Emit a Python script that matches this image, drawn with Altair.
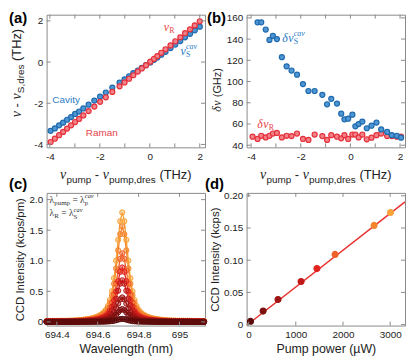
import altair as alt
import pandas as pd

# ---------------- data ----------------
# (a) resonance positions vs pump detuning (THz)
a_detuning = [-3.97, -3.80, -3.63, -3.47, -3.31, -3.15, -2.99, -2.83, -2.66, -2.45, -2.22, -1.99, -1.76, -1.50,
              -1.21, -1.01, -0.83, -0.66, -0.48, -0.32, -0.15, 0.02, 0.17, 0.30, 0.46, 0.63, 0.83, 1.02, 1.22,
              1.41, 1.61, 1.80, 2.00]
a_cavity = [-3.34, -3.22, -3.07, -2.94, -2.80, -2.67, -2.52, -2.40, -2.25, -2.07, -1.87, -1.68, -1.48, -1.24,
            -1.00, -0.84, -0.69, -0.54, -0.41, -0.28, -0.15, -0.02, 0.11, 0.22, 0.36, 0.50, 0.68, 0.85, 1.02,
            1.20, 1.37, 1.54, 1.72]
a_raman = [-3.88, -3.72, -3.55, -3.39, -3.23, -3.07, -2.91, -2.76, -2.59, -2.38, -2.16, -1.93, -1.71, -1.45,
           -1.18, -0.99, -0.81, -0.64, -0.46, -0.31, -0.15, 0.02, 0.16, 0.29, 0.45, 0.62, 0.81, 1.01, 1.20,
           1.40, 1.59, 1.78, 1.98]

# (b) linewidths (GHz)
b_cav_detuning = [-3.74, -3.59, -3.41, -3.26, -3.12, -2.96, -2.76, -2.57, -2.37, -2.15, -1.91, -1.69, -1.44, -1.13,
                  -0.94, -0.77, -0.54, -0.37, -0.24, -0.09, 0.08, 0.20, 0.33, 0.48, 0.66, 0.85, 1.05, 1.24, 1.48,
                  1.67, 1.87, 2.04]
b_cav_width = [155.8, 155.8, 149.0, 139.2, 143.0, 140.0, 122.9, 114.3, 110.4, 106.5, 97.6, 91.1, 91.1, 87.5,
               78.6, 83.7, 79.2, 69.7, 64.4, 65.0, 68.8, 57.8, 59.9, 62.3, 56.0, 58.4, 61.4, 54.9, 52.5,
               49.5, 48.9, 47.1]
b_ram_detuning = [-3.94, -3.74, -3.59, -3.41, -3.26, -3.12, -2.96, -2.76, -2.57, -2.37, -2.15, -1.91, -1.69, -1.44,
                  -1.13, -0.94, -0.77, -0.54, -0.37, -0.24, -0.09, 0.08, 0.20, 0.33, 0.48, 0.66, 0.85, 1.05, 1.24,
                  1.48, 1.67, 1.87, 2.04]
b_ram_width = [48.0, 45.9, 48.9, 47.4, 48.9, 51.0, 51.6, 47.4, 48.9, 48.6, 51.0, 45.9, 45.0, 50.1,
               48.6, 45.0, 49.5, 48.0, 46.5, 49.5, 45.9, 50.1, 50.1, 47.4, 50.1, 45.6, 47.1, 49.5, 51.0,
               48.6, 48.6, 48.0, 48.0]

# (c) spectra: wavelength grid (nm) and normalised line shape
c_wavelength = [694.35, 694.36, 694.37, 694.38, 694.39, 694.40, 694.41, 694.42, 694.43, 694.44, 694.45, 694.46,
                694.47, 694.48, 694.49, 694.50, 694.51, 694.52, 694.53, 694.54, 694.55, 694.56, 694.57, 694.58,
                694.59, 694.60, 694.61, 694.62, 694.63, 694.64, 694.65, 694.66, 694.67, 694.68, 694.69, 694.70,
                694.71, 694.72, 694.73, 694.74, 694.75, 694.76, 694.77, 694.78, 694.79, 694.80, 694.81, 694.82,
                694.83, 694.84, 694.85, 694.86, 694.87, 694.88, 694.89, 694.90, 694.91, 694.92, 694.93, 694.94,
                694.95, 694.96, 694.97, 694.98, 694.99, 695.00, 695.01, 695.02, 695.03, 695.04, 695.05, 695.06,
                695.07, 695.08, 695.09, 695.10, 695.11, 695.12]
c_profile = [0.008, 0.008, 0.008, 0.009, 0.009, 0.009, 0.009, 0.010, 0.010, 0.010, 0.010, 0.011, 0.011,
             0.012, 0.013, 0.014, 0.016, 0.018, 0.020, 0.022, 0.025, 0.028, 0.032, 0.037, 0.043, 0.050, 0.060,
             0.072, 0.088, 0.110, 0.145, 0.200, 0.280, 0.400, 0.560, 0.750, 0.920,
             1.000,
             0.920, 0.750, 0.560, 0.400, 0.280, 0.200, 0.145, 0.110, 0.088, 0.072, 0.060, 0.050, 0.043, 0.037,
             0.032, 0.028, 0.025, 0.022, 0.020, 0.018, 0.016, 0.014, 0.013, 0.012,
             0.011, 0.011, 0.010, 0.010, 0.010, 0.010, 0.009, 0.009, 0.009, 0.009, 0.008, 0.008, 0.008, 0.008,
             0.008, 0.008]
c_peaks = [0.05, 0.21, 0.40, 0.68, 0.89, 1.12, 1.56, 1.79]

# (d) integrated intensity vs pump power
run_names = ["P1", "P2", "P3", "P4", "P5", "P6", "P7", "P8"]
d_power = [40, 308, 623, 1112, 1448, 1832, 2659, 3007]
d_intensity = [0.005, 0.021, 0.039, 0.067, 0.087, 0.109, 0.154, 0.174]
d_fit_power = [-40, 3314]
d_fit_intensity = [-0.001, 0.1905]

# tick positions / labels
a_xticks = [-4, -3, -2, -1, 0, 1, 2]
a_xlabels = [-4, -2, 0, 2]
a_yticks = [-4, -2, 0, 2]
b_yticks = [40, 60, 80, 100, 120, 140, 160]
c_xticks = [694.4, 694.6, 694.8, 695]
c_yticks = [0, 0.5, 1, 1.5, 2]
d_xticks = [0, 1000, 2000, 3000]
d_yticks = [0, 0.05, 0.1, 0.15, 0.2]

# ---------------- style ----------------
SANS = "Liberation Sans"
SERIF = "Liberation Serif"
FRAME = "#8a8a8a"
INK = "#222222"
BLUE_F, BLUE_S, BLUE_T = "#4f97d4", "#1f6aad", "#2a7cc4"
RED_F, RED_S, RED_T = "#f28289", "#e5303a", "#e8434b"
FIT_RED = "#e8322f"
run_colors = ["#5c0b0b", "#7e1010", "#9e1414", "#c21818", "#e2241e", "#f0602a", "#f4862e", "#f7a33a"]
run_strokes = ["#3d0606", "#5a0a0a", "#780c0c", "#941010", "#b41414", "#c8461c", "#d06a20", "#d88828"]
W, H = 160, 134
TL = 4

SANS_W = {' ': .278, '(': .333, ')': .333, '-': .333, ',': .278, '/': .278, '=': .584,
          'a': .556, 'c': .5, 'd': .556, 'e': .556, 'm': .833, 'n': .556, 'p': .556, 'r': .333,
          's': .5, 'u': .556, 'z': .5, 'v': .5, 'G': .778, 'H': .722, 'R': .722, 'S': .667, 'T': .611}
SERIF_W = {' ': .25, '=': .564, 'a': .444, 'c': .444, 'm': .778, 'p': .5, 'u': .5, 'v': .444,
           'R': .667, 'S': .556, 'ν': .46, 'δ': .5, 'λ': .5}


def ch(t, size, color=INK, serif=False, it=False, dy=0.0, adv=True):
    return dict(t=t, size=size, color=color, serif=serif, it=it, dy=dy, adv=adv)


def width(t, size, serif):
    table = SERIF_W if serif else SANS_W
    return sum(table.get(k, 0.55) for k in t) * size


def one_row(**kw):
    if not kw:
        return pd.DataFrame({"k": [0]})
    return pd.DataFrame({k: [v] for k, v in kw.items()})


def rich(chunks, x_enc, y_enc, src=None, angle=0, center=False):
    src = one_row() if src is None else src
    widths = [width(c["t"], c["size"], c["serif"]) for c in chunks]
    total = sum(w for c, w in zip(chunks, widths) if c["adv"])
    pos = -total / 2 if center else 0.0
    out = []
    for c, w in zip(chunks, widths):
        txt = c["t"].strip()
        lead = len(c["t"]) - len(c["t"].lstrip(" "))
        off = width(" " * lead, c["size"], c["serif"])
        m = alt.Chart(src).mark_text(
            text=txt, font=SERIF if c["serif"] else SANS, fontSize=c["size"],
            fontStyle="italic" if c["it"] else "normal", color=c["color"],
            align="left", baseline="alphabetic", dx=pos + off, dy=c["dy"], angle=angle)
        out.append(m.encode(x=x_enc, y=y_enc))
        if c["adv"]:
            pos += w
    return out


class Panel:
    def __init__(self, xs, ys, axx, axy):
        self.xs, self.ys, self.axx, self.axy = xs, ys, axx, axy

    def X(self, f):
        return alt.X(f, scale=self.xs, axis=self.axx)

    def Y(self, f):
        return alt.Y(f, scale=self.ys, axis=self.axy)

    def ticks(self, xvals, yvals):
        xd = pd.DataFrame({"v": xvals})
        yd = pd.DataFrame({"v": yvals})
        out = []
        for y0, y1 in [(H, H - TL), (0, TL)]:
            out.append(alt.Chart(xd).mark_rule(color=FRAME, strokeWidth=1).encode(
                x=self.X("v:Q"), y=alt.value(y0), y2=alt.value(y1)))
        for x0, x1 in [(0, TL), (W - TL, W)]:
            out.append(alt.Chart(yd).mark_rule(color=FRAME, strokeWidth=1).encode(
                y=self.Y("v:Q"), x=alt.value(x0), x2=alt.value(x1)))
        return out

    def text(self, t, x, y, color, size=10):
        return alt.Chart(one_row(x=x, y=y)).mark_text(
            text=t, font=SANS, fontSize=size, color=color, align="left", baseline="middle").encode(
            x=self.X("x:Q"), y=self.Y("y:Q"))

    def rich(self, chunks, x, y):
        return rich(chunks, self.X("x:Q"), self.Y("y:Q"), src=one_row(x=x, y=y))


def plabel(t, x, y):
    return alt.Chart(one_row()).mark_text(
        text=t, font=SANS, fontSize=15, fontWeight="bold", color="#000",
        align="left", baseline="top").encode(x=alt.value(x), y=alt.value(y))


def detuning_title():
    return rich([ch("ν", 14, serif=True, it=True), ch("pump", 10, dy=3.5), ch(" - ", 13),
                 ch("ν", 14, serif=True, it=True), ch("pump,dres", 10, dy=3.5), ch(" (THz)", 13)],
                alt.value(W / 2), alt.value(H + 32), center=True)


int_label = "'' + datum.value"

# ---------------- panel (a) ----------------
df_a = pd.DataFrame({"det": a_detuning, "cav": a_cavity, "ram": a_raman})
pa = Panel(alt.Scale(domain=[-4.13, 2.21], nice=False, zero=False),
           alt.Scale(domain=[-4.14, 2.3], nice=False, zero=False),
           alt.Axis(values=a_xlabels, labelExpr=int_label, title=None),
           alt.Axis(values=a_yticks, labelExpr=int_label, title=None))
a_cav = alt.Chart(df_a).mark_circle(size=26, fill=BLUE_F, stroke=BLUE_S, strokeWidth=1.2, opacity=1).encode(
    x=pa.X("det:Q"), y=pa.Y("cav:Q"))
a_ram = alt.Chart(df_a).mark_circle(size=26, fill=RED_F, stroke=RED_S, strokeWidth=1.2, opacity=1).encode(
    x=pa.X("det:Q"), y=pa.Y("ram:Q"))
a_layers = [a_cav, a_ram] + pa.ticks(a_xticks, a_yticks)
a_layers += [pa.text("Cavity", -3.9, -1.82, BLUE_T), pa.text("Raman", -2.56, -3.46, RED_T)]
a_layers += pa.rich([ch("ν", 12, RED_T, serif=True, it=True), ch("R", 8, RED_T, serif=True, dy=2.5)], 0.56, 1.52)
a_layers += pa.rich([ch("ν", 12, BLUE_T, serif=True, it=True), ch("S", 8, BLUE_T, serif=True, dy=2, adv=False),
                     ch("cav", 8, BLUE_T, serif=True, it=True, dy=-6)], 1.23, 0.34)
a_layers += detuning_title()
a_layers += rich([ch("ν", 14, serif=True, it=True), ch(" - ", 13), ch("ν", 14, serif=True, it=True),
                  ch("S,dres", 10, dy=3.5), ch(" (THz)", 13)],
                 alt.value(-26), alt.value(H / 2 - 8), angle=270, center=True)
a_layers.append(plabel("(a)", -38, -4))
panel_a = alt.layer(*a_layers).properties(width=W, height=H)

# ---------------- panel (b) ----------------
df_bc = pd.DataFrame({"det": b_cav_detuning, "w": b_cav_width})
df_br = pd.DataFrame({"det": b_ram_detuning, "w": b_ram_width})
pb = Panel(alt.Scale(domain=[-4.18, 2.2], nice=False, zero=False),
           alt.Scale(domain=[38, 163], nice=False, zero=False),
           alt.Axis(values=a_xlabels, labelExpr=int_label, title=None),
           alt.Axis(values=b_yticks, labelExpr=int_label, title=None))
b_ram = alt.Chart(df_br).mark_circle(size=26, fill=RED_F, stroke=RED_S, strokeWidth=1.2, opacity=1).encode(
    x=pb.X("det:Q"), y=pb.Y("w:Q"))
b_cav = alt.Chart(df_bc).mark_circle(size=26, fill=BLUE_F, stroke=BLUE_S, strokeWidth=1.2, opacity=1).encode(
    x=pb.X("det:Q"), y=pb.Y("w:Q"))
b_layers = [b_ram, b_cav] + pb.ticks(a_xticks, b_yticks)
b_layers += pb.rich([ch("δ", 12, BLUE_T, serif=True, it=True), ch("ν", 12, BLUE_T, serif=True, it=True),
                     ch("S", 8, BLUE_T, serif=True, dy=2, adv=False),
                     ch("cav", 8, BLUE_T, serif=True, it=True, dy=-6)], -2.74, 137.3)
b_layers += pb.rich([ch("δ", 12, RED_T, serif=True, it=True), ch("ν", 12, RED_T, serif=True, it=True),
                     ch("R", 8, RED_T, serif=True, dy=2.5)], -3.75, 56.7)
b_layers += detuning_title()
b_layers += rich([ch("δ", 12, serif=True, it=True), ch("ν", 12, serif=True, it=True), ch(" (GHz)", 11)],
                 alt.value(-26), alt.value(H / 2 + 9), angle=270, center=True)
b_layers.append(plabel("(b)", -40, -4))
panel_b = alt.layer(*b_layers).properties(width=W, height=H)

# ---------------- panel (c) ----------------
c_rows = []
for name, peak in reversed(list(zip(run_names, c_peaks))):
    for wl, f in zip(c_wavelength, c_profile):
        c_rows.append({"wl": wl, "I": peak * f, "run": name})
df_c = pd.DataFrame(c_rows)
pc = Panel(alt.Scale(domain=[694.35, 695.125], nice=False, zero=False),
           alt.Scale(domain=[-0.06, 2.11], nice=False, zero=False),
           alt.Axis(values=c_xticks, labelExpr=int_label, title="Wavelength (nm)", titleFontSize=12.5,
                    titlePadding=3),
           alt.Axis(values=c_yticks, labelExpr="datum.value == 0 ? '0' : format(datum.value, '.1f')",
                    title="CCD Intensity (kcps/pm)", titleFontSize=11.5, titlePadding=3))
col_c = alt.Scale(domain=run_names, range=run_colors)
c_line = alt.Chart(df_c).mark_line(strokeWidth=1.3).encode(
    x=pc.X("wl:Q"), y=pc.Y("I:Q"), color=alt.Color("run:N", scale=col_c, legend=None))
c_pts = alt.Chart(df_c).mark_circle(size=28, fillOpacity=0.45, strokeWidth=1, opacity=1).encode(
    x=pc.X("wl:Q"), y=pc.Y("I:Q"),
    fill=alt.Fill("run:N", scale=col_c, legend=None), stroke=alt.Stroke("run:N", scale=col_c, legend=None))
c_layers = [c_line, c_pts] + pc.ticks(c_xticks, c_yticks)
G = "#333333"
c_layers += rich([ch("λ", 9.5, G, serif=True), ch("pump", 7, G, serif=True, dy=2), ch(" = ", 9.5, G, serif=True),
                  ch("λ", 9.5, G, serif=True), ch("p", 7, G, serif=True, dy=2.5, adv=False),
                  ch("cav", 6.5, G, serif=True, it=True, dy=-4.5)],
                 alt.value(3), alt.value(10))
c_layers += rich([ch("λ", 9.5, G, serif=True), ch("R", 7, G, serif=True, dy=2), ch(" = ", 9.5, G, serif=True),
                  ch("λ", 9.5, G, serif=True), ch("S", 7, G, serif=True, dy=2.5, adv=False),
                  ch("cav", 6.5, G, serif=True, it=True, dy=-4.5)],
                 alt.value(3), alt.value(23.5))
c_layers.append(plabel("(c)", -38, -16))
panel_c = alt.layer(*c_layers).properties(width=W, height=H)

# ---------------- panel (d) ----------------
df_d = pd.DataFrame({"P": d_power, "I": d_intensity, "run": run_names})
df_fit = pd.DataFrame({"P": d_fit_power, "I": d_fit_intensity})
pd_ = Panel(alt.Scale(domain=[-42, 3314], nice=False, zero=False),
            alt.Scale(domain=[-0.0015, 0.2045], nice=False, zero=False),
            alt.Axis(values=d_xticks, labelExpr=int_label, title="Pump power (µW)", titleFontSize=12.5,
                     titlePadding=3),
            alt.Axis(values=d_yticks, labelExpr="datum.value == 0 ? '0' : format(datum.value, '.2f')",
                     title="CCD Intensity (kcps)", titleFontSize=11.5, titlePadding=3))
d_fit = alt.Chart(df_fit).mark_line(color=FIT_RED, strokeWidth=1.5, clip=True).encode(
    x=pd_.X("P:Q"), y=pd_.Y("I:Q"))
d_pts = alt.Chart(df_d).mark_circle(size=36, strokeWidth=1.2, opacity=1).encode(
    x=pd_.X("P:Q"), y=pd_.Y("I:Q"),
    fill=alt.Fill("run:N", scale=col_c, legend=None),
    stroke=alt.Stroke("run:N", scale=alt.Scale(domain=run_names, range=run_strokes), legend=None))
d_layers = [d_fit, d_pts] + pd_.ticks(d_xticks, d_yticks)
d_layers.append(plabel("(d)", -42, -16))
panel_d = alt.layer(*d_layers).properties(width=W, height=H)

chart = alt.concat(panel_a, panel_b, panel_c, panel_d, columns=2, bounds="flush",
                   spacing={"row": 46, "column": 42}).properties(
    padding=0
).configure_axis(
    labelFont=SANS, labelFontSize=10, labelColor="#222", titleFont=SANS, titleFontWeight="normal",
    titleColor=INK, ticks=False, domain=False, grid=False, labelPadding=4
).configure_view(stroke=FRAME, strokeWidth=1)

chart.save("out.html", embed_options={"renderer": "svg", "actions": False})
